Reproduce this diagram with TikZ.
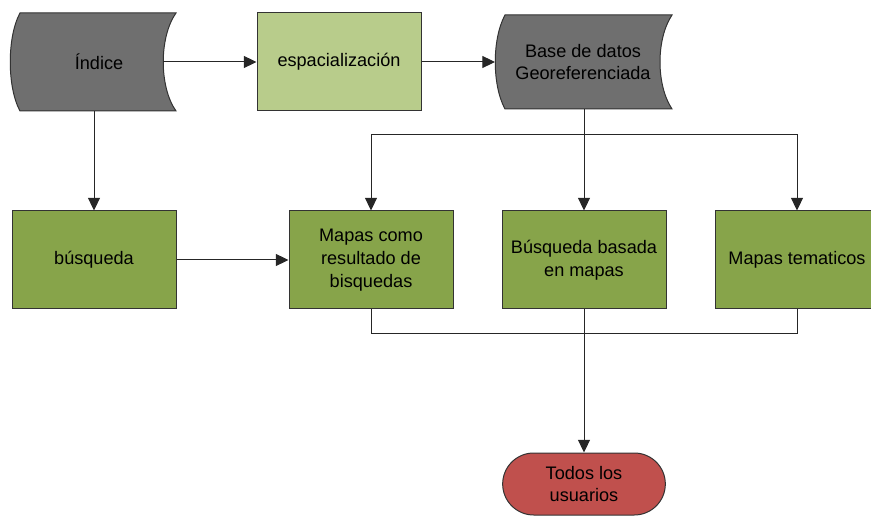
\documentclass[tikz,border=0pt]{standalone}
\usepackage{fontspec}
\setmainfont{Liberation Sans}
\usetikzlibrary{arrows.meta,shapes.misc,calc}
\definecolor{dgrey}{HTML}{6F6F6F}
\definecolor{lgreen}{HTML}{B8CC8B}
\definecolor{ogreen}{HTML}{87A44A}
\definecolor{cred}{HTML}{C0504D}
\begin{document}
\begin{tikzpicture}[x=0.75pt,y=-0.75pt,
  txt/.style={inner sep=0pt, align=center, font=\fontsize{13.6}{17}\selectfont},
  box/.style={txt, draw=black!80, line width=0.75pt, minimum width=123pt, minimum height=73.5pt},
  lbox/.style={box, fill=lgreen},
  gbox/.style={box, fill=ogreen},
  shp/.style={fill=dgrey, draw=black!80, line width=0.75pt},
  conn/.style={draw=black!85, line width=0.75pt},
  arr/.style={conn, -{Triangle[length=9.5pt,width=9pt]}}]
\useasboundingbox (0,0) rectangle (871,516);

% top row
\node[txt, minimum width=117pt, minimum height=73.5pt] (ind) at (99,62) {};
\draw[shp] ($(ind)+(-79,-49)$) -- ($(ind)+(77,-49)$)
  .. controls ($(ind)+(60,-25)$) and ($(ind)+(60,25)$) .. ($(ind)+(77,49)$)
  -- ($(ind)+(-79,49)$)
  .. controls ($(ind)+(-92,25)$) and ($(ind)+(-92,-25)$) .. cycle;
\node[txt] at (ind) {Índice};

\node[lbox] (esp) at (339,62) {espacialización};

\node[txt, minimum width=125pt, minimum height=70.5pt] (base) at (583,62) {};
\draw[shp] ($(base)+(-78,-47)$) -- ($(base)+(89,-47)$)
  .. controls ($(base)+(73,-23)$) and ($(base)+(73,23)$) .. ($(base)+(89,47)$)
  -- ($(base)+(-78,47)$)
  .. controls ($(base)+(-91,23)$) and ($(base)+(-91,-23)$) .. cycle;
\node[txt] at (base) {Base de datos\\Georeferenciada};

% middle row
\node[gbox] (bus) at (94,260) {búsqueda};
\node[gbox] (mc) at (371,260) {Mapas como\\resultado de\\bisquedas};
\node[gbox] (bb) at (584,260) {Búsqueda basada\\en mapas};
\node[gbox] (mt) at (797,260) {Mapas tematicos};

% bottom
\node[txt, draw=black!80, line width=0.75pt, fill=cred, rounded rectangle,
      minimum width=122pt, minimum height=46.5pt] (todos) at (584,484) {Todos los\\usuarios};

% connectors
\draw[arr] ($(ind)+(64,0)$) -- (esp.west);
\draw[arr] (esp.east) -- ($(base)+(-88,0)$);
\draw[arr] (bus.north |- ind.south) -- (bus.north);
\draw[arr] (bus.east) -- (mc.west);
\draw[arr] (bb.north |- base.south) -- (bb.north);
\coordinate (jt) at ($(bb.north |- base.south)+(0,25)$);
\draw[arr] (jt) -| (mc.north);
\draw[arr] (jt) -| (mt.north);
\coordinate (jb) at ($(bb.south)+(0,24)$);
\draw[conn] (mc.south) |- (jb) -| (mt.south);
\draw[arr] (bb.south) -- (todos.north);
\end{tikzpicture}
\end{document}
